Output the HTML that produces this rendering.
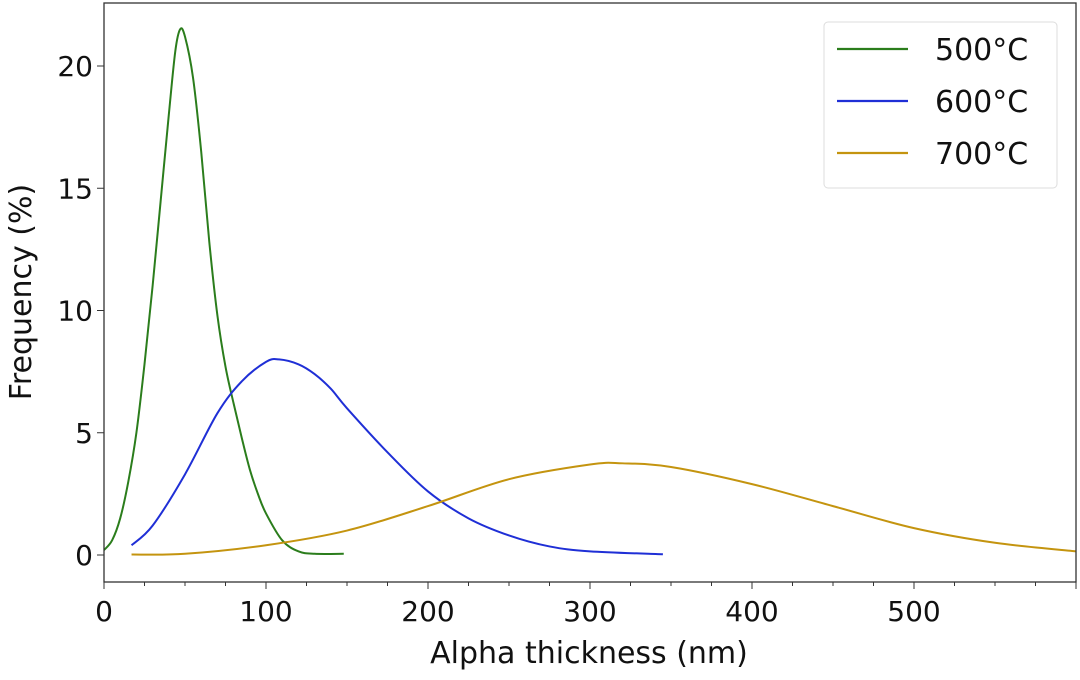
<!DOCTYPE html>
<html><head><meta charset="utf-8"><style>
body{margin:0;background:#fff;}
svg text{font-family:"DejaVu Sans","Liberation Sans",sans-serif;fill:#111;}
</style></head><body>
<svg id="chart" width="1080" height="675" xmlns="http://www.w3.org/2000/svg"></svg>
<script>
const xTicks=[0,100,200,300,400,500];
const yTicks=[0,5,10,15,20];
const s500x=[0,5,10,15,20,25,30,35,40,44,47,50,55,60,65,70,75,80,85,90,95,100,110,120,130,148];
const s500y=[0.2,0.6,1.5,3,5,7.8,11,14.5,18,20.6,21.5,21.2,19.5,16.5,12.8,9.8,7.7,6.2,4.8,3.5,2.5,1.7,0.6,0.15,0.05,0.05];
const s600x=[17,30,50,70,85,100,108,120,130,140,150,175,200,225,250,275,300,345];
const s600y=[0.4,1.2,3.3,5.8,7.1,7.9,8.0,7.8,7.4,6.8,6.0,4.2,2.6,1.5,0.8,0.35,0.15,0.03];
const s700x=[17,50,100,150,200,250,300,320,350,400,450,500,550,600];
const s700y=[0.02,0.05,0.4,1.0,2.0,3.1,3.7,3.75,3.6,2.9,2.0,1.1,0.5,0.15];
const L=104,R=1076,T=3,B=582;
const X=v=>L+v*1.62, Y=v=>555-v*24.45;
const svg=document.getElementById('chart');
const NS='http://www.w3.org/2000/svg';
function mk(t,a,p){const e=document.createElementNS(NS,t);for(const k in a)e.setAttribute(k,a[k]);(p||svg).appendChild(e);return e;}
function path(xs,ys){const p=xs.map((x,i)=>[X(x),Y(ys[i])]);let d='M'+p[0][0]+','+p[0][1];
for(let i=0;i<p.length-1;i++){const p0=p[i-1]||p[i],p1=p[i],p2=p[i+1],p3=p[i+2]||p2;
d+=' C'+(p1[0]+(p2[0]-p0[0])/6)+','+(p1[1]+(p2[1]-p0[1])/6)+' '+(p2[0]-(p3[0]-p1[0])/6)+','+(p2[1]-(p3[1]-p1[1])/6)+' '+p2[0]+','+p2[1];}return d;}
const series=[[s500x,s500y,'#2b7d1c','line-500c'],[s600x,s600y,'#1f2fd6','line-600c'],[s700x,s700y,'#c4940f','line-700c']];
const clip=mk('clipPath',{id:'c'});mk('rect',{x:L,y:T,width:R-L,height:B-T},clip);
series.forEach(s=>{const e=mk('path',{d:path(s[0],s[1]),fill:'none',stroke:s[2],'stroke-width':2,'clip-path':'url(#c)'});

});
const ax=mk('rect',{x:L,y:T,width:R-L,height:B-T,fill:'none',stroke:'#333','stroke-width':1.3});


for(let v=0;v<=600;v+=25){const big=v%100===0;mk('line',{x1:X(v),x2:X(v),y1:B,y2:B+(big?7:4),stroke:'#333','stroke-width':1});}
xTicks.forEach(v=>{const t=mk('text',{x:X(v),y:621,'font-size':28,'text-anchor':'middle'});t.textContent=v;

});
yTicks.forEach(v=>{mk('line',{x1:L-7,x2:L,y1:Y(v),y2:Y(v),stroke:'#333','stroke-width':1});
const t=mk('text',{x:L-11,y:Y(v)+10,'font-size':28,'text-anchor':'end'});t.textContent=v;

});
const xt=mk('text',{x:589,y:663,'font-size':30,'text-anchor':'middle'});xt.textContent='Alpha thickness (nm)';


const yt=mk('text',{x:0,y:0,'font-size':30,'text-anchor':'middle',transform:'translate(31,292) rotate(-90)'});yt.textContent='Frequency (%)';


const lg=mk('g',{});


mk('rect',{x:824,y:22,width:233,height:166,rx:4,fill:'#fff',stroke:'#ddd','stroke-width':1},lg);
['500°C','600°C','700°C'].forEach((n,i)=>{const y=49+i*52;
mk('line',{x1:837,x2:908,y1:y,y2:y,stroke:series[i][2],'stroke-width':2.2},lg);
const t=mk('text',{x:935,y:y+11,'font-size':30},lg);t.textContent=n;

});
</script>
</body></html>
